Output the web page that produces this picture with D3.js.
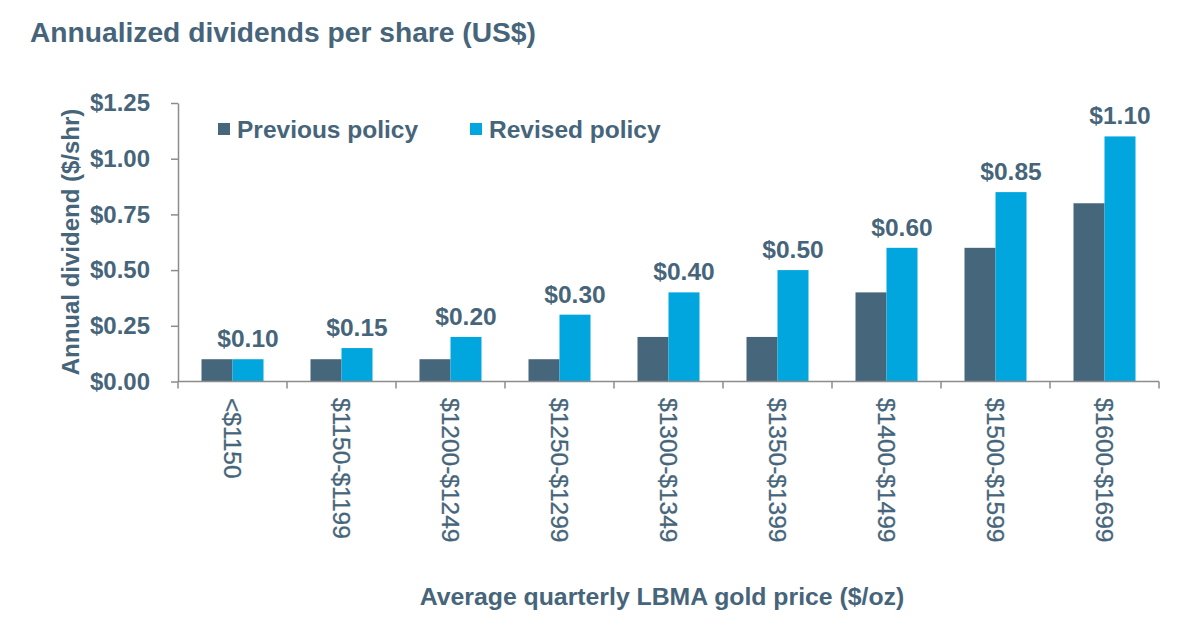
<!DOCTYPE html>
<html>
<head>
<meta charset="utf-8">
<script src="https://cdn.jsdelivr.net/npm/d3@7"></script>
<style>
  body { margin: 0; background: #fff; }
  svg { display: block; font-family: "Liberation Sans", Arial, sans-serif; }
</style>
</head>
<body>
<svg id="chart" width="1200" height="630"></svg>
<script>
// Data
const categories = ['<$1150', '$1150-$1199', '$1200-$1249', '$1250-$1299', '$1300-$1349',
  '$1350-$1399', '$1400-$1499', '$1500-$1599', '$1600-$1699'];
const previousPolicy = [0.10, 0.10, 0.10, 0.10, 0.20, 0.20, 0.40, 0.60, 0.80];
const revisedPolicy = [0.10, 0.15, 0.20, 0.30, 0.40, 0.50, 0.60, 0.85, 1.10];
const seriesNames = ['Previous policy', 'Revised policy'];
const yTicks = [0, 0.25, 0.5, 0.75, 1.0, 1.25];

const colors = { 'Previous policy': '#46667b', 'Revised policy': '#00a6dd' };
const textColor = '#46657a';
const axisColor = '#8c8c8c';

const svg = d3.select('#chart');
const plot = { left: 178, right: 1159, top: 103, bottom: 381.5 };

const x = d3.scaleBand().domain(categories).range([plot.left, plot.right]);
const groupW = 62;
const x1 = d3.scaleBand().domain(seriesNames).range([0, groupW]);
const y = d3.scaleLinear().domain([0, 1.25]).range([plot.bottom, plot.top]);

const rows = categories.map((c, i) => ({
  cat: c,
  values: [
    { name: seriesNames[0], value: previousPolicy[i] },
    { name: seriesNames[1], value: revisedPolicy[i] }
  ]
}));

// Title
svg.append('text')
  .attr('x', 30).attr('y', 42)
  .attr('fill', textColor)
  .attr('font-size', 28.2).attr('font-weight', 'bold')
  .text('Annualized dividends per share (US$)');

// Bars
const groups = svg.append('g').selectAll('g')
  .data(rows).enter().append('g')
  .attr('transform', d => `translate(${x(d.cat) + (x.bandwidth() - groupW) / 2},0)`);

groups.selectAll('rect')
  .data(d => d.values).enter().append('rect')
  .attr('x', d => x1(d.name))
  .attr('width', x1.bandwidth())
  .attr('y', d => y(d.value))
  .attr('height', d => y(0) - y(d.value))
  .attr('fill', d => colors[d.name]);

// Value labels above revised bars
groups.append('text')
  .attr('x', x1(seriesNames[1]) + x1.bandwidth() / 2)
  .attr('y', d => y(d.values[1].value) - 12)
  .attr('text-anchor', 'middle')
  .attr('fill', textColor)
  .attr('font-size', 24.5).attr('font-weight', 'bold')
  .text(d => '$' + d.values[1].value.toFixed(2));

// Y axis
const yAxis = svg.append('g')
  .attr('transform', `translate(${plot.left},0)`)
  .call(d3.axisLeft(y).tickValues(yTicks).tickSize(7).tickSizeOuter(0)
    .tickFormat(d => '$' + d.toFixed(2)));
yAxis.select('.domain').attr('stroke', axisColor).attr('stroke-width', 1.5);
yAxis.selectAll('.tick line').attr('stroke', axisColor).attr('stroke-width', 1.5);
yAxis.selectAll('.tick text')
  .attr('x', -28)
  .attr('fill', textColor)
  .attr('font-size', 24).attr('font-weight', 'bold')
  .attr('font-family', '"Liberation Sans", Arial, sans-serif');

// X axis: baseline + ticks at band edges
const xAxisG = svg.append('g');
xAxisG.append('line')
  .attr('x1', plot.left).attr('x2', plot.right)
  .attr('y1', y(0)).attr('y2', y(0))
  .attr('stroke', axisColor).attr('stroke-width', 1.5);
const edges = categories.map(c => x(c)).concat([x(categories[categories.length - 1]) + x.bandwidth()]);
xAxisG.selectAll('.xtick').data(edges).enter().append('line')
  .attr('x1', d => d).attr('x2', d => d)
  .attr('y1', y(0)).attr('y2', y(0) + 7)
  .attr('stroke', axisColor).attr('stroke-width', 1.5);

xAxisG.selectAll('.xlabel').data(categories).enter().append('text')
  .attr('transform', d => `translate(${x(d) + x.bandwidth() / 2},398) rotate(90)`)
  .attr('dominant-baseline', 'central')
  .attr('fill', textColor)
  .attr('font-size', 24.5)
  .attr('stroke', textColor).attr('stroke-width', 0.3)
  .text(d => d);

// Axis titles
svg.append('text')
  .attr('transform', 'translate(70,242) rotate(-90)')
  .attr('text-anchor', 'middle')
  .attr('dominant-baseline', 'central')
  .attr('fill', textColor)
  .attr('font-size', 24).attr('font-weight', 'bold')
  .text('Annual dividend ($/shr)');

svg.append('text')
  .attr('x', 662).attr('y', 605)
  .attr('text-anchor', 'middle')
  .attr('fill', textColor)
  .attr('font-size', 24.8).attr('font-weight', 'bold')
  .text('Average quarterly LBMA gold price ($/oz)');

// Legend
const legendX = [218, 470];
const legend = svg.append('g').selectAll('g')
  .data(seriesNames).enter().append('g')
  .attr('transform', (d, i) => `translate(${legendX[i]},123)`);
legend.append('rect')
  .attr('width', 12).attr('height', 12)
  .attr('fill', d => colors[d]);
legend.append('text')
  .attr('x', 19).attr('y', 15)
  .attr('fill', textColor)
  .attr('font-size', 24.5).attr('font-weight', 'bold')
  .text(d => d);
</script>
</body>
</html>
